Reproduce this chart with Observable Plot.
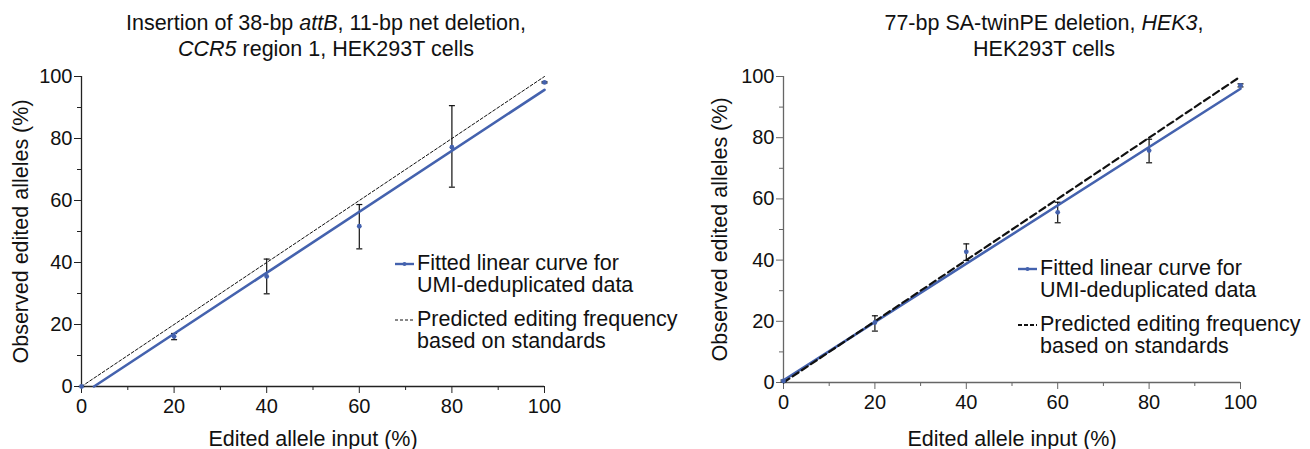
<!DOCTYPE html>
<html>
<head>
<meta charset="utf-8">
<script src="https://cdn.jsdelivr.net/npm/d3@7"></script>
<script src="https://cdn.jsdelivr.net/npm/@observablehq/plot@0.6"></script>
<style>
  body { margin: 0; background: #fff; font-family: "Liberation Sans", Arial, sans-serif; }
  #wrap { position: relative; width: 1310px; height: 449px; overflow: hidden; background: #fff; }
  .title { position: absolute; top: 10px; font-size: 21.5px; line-height: 26px; text-align: center; color: #111; white-space: nowrap; transform: translateX(-50%); }
  .panel { position: absolute; top: 60px; }
  .legend { position: absolute; font-size: 21.5px; line-height: 22px; color: #111; white-space: nowrap; }
  .entry { display: flex; align-items: flex-start; margin-bottom: 12px; }
  .entry svg { flex: none; margin-right: 3px; }
</style>
</head>
<body>
<div id="wrap"></div>
<script>
// ---------- data ----------
const inputPct = [0, 20, 40, 60, 80, 100];

const leftObserved = [0, 16.1, 35.5, 51.7, 77.2, 98.1];
const leftErrLow   = [0, 15.1, 29.9, 44.4, 64.3, 97.9];
const leftErrHigh  = [0, 17.1, 41.1, 58.7, 90.6, 98.3];
const leftFitX = [2.7, 100];
const leftFitY = [0, 95.7];

const rightObserved = [0.5, 19.6, 42.7, 55.6, 75.8, 97.1];
const rightErrLow   = [0.2, 16.8, 39.9, 52.2, 71.8, 96.6];
const rightErrHigh  = [0.8, 21.8, 45.3, 58.9, 79.5, 97.6];
const rightFitX = [0, 100];
const rightFitY = [0.7, 96.0];

const predictedX = [0, 100];
const predictedY = [0, 100];

const majorTicks = [0, 20, 40, 60, 80, 100];
const minorTicks = [10, 30, 50, 70, 90];

const xLabel = "Edited allele input (%)";
const yLabel = "Observed edited alleles (%)";
const legendLabels = [
  ["Fitted linear curve for", "UMI-deduplicated data"],
  ["Predicted editing frequency", "based on standards"]
];
const leftTitle = ["Insertion of 38-bp <i>attB</i>, 11-bp net deletion,", "<i>CCR5</i> region 1, HEK293T cells"];
const rightTitle = ["77-bp SA-twinPE deletion, <i>HEK3</i>,", "HEK293T cells"];

// ---------- styling ----------
const BLUE = "#4462ae";
const FONT = "Liberation Sans, Arial, sans-serif";

const capSymbol = {
  draw(ctx, size) {
    const w = Math.sqrt(size / Math.PI);
    ctx.moveTo(-w, 0);
    ctx.lineTo(w, 0);
  }
};

function makePanel(cfg) {
  const pts = inputPct.map((x, i) => ({x, y: cfg.obs[i], lo: cfg.lo[i], hi: cfg.hi[i]}));
  const fit = cfg.fitX.map((x, i) => ({x, y: cfg.fitY[i]}));
  const pred = predictedX.map((x, i) => ({x, y: predictedY[i]}));
  return Plot.plot({
    width: 655,
    height: 389,
    marginTop: 16,
    marginBottom: cfg.mb,
    marginLeft: cfg.ml,
    marginRight: cfg.mr,
    style: {fontFamily: FONT, fontSize: "20px", color: "#111", background: "transparent", overflow: "visible"},
    x: {domain: [0, 100]},
    y: {domain: [0, 100]},
    marks: [
      Plot.axisX(minorTicks, {tickSize: 4, tickFormat: () => "", label: null, stroke: cfg.axis}),
      Plot.axisX(majorTicks, {tickSize: 7, tickPadding: 5, fontSize: 20, label: null, stroke: cfg.axis, fill: "#111"}),
      Plot.axisX([], {label: xLabel, labelAnchor: "center", labelOffset: cfg.xlo, labelArrow: "none", fontSize: 21.5, fill: "#111"}),
      Plot.axisY(minorTicks, {tickSize: 4, tickFormat: () => "", label: null, stroke: cfg.axis}),
      Plot.axisY(majorTicks, {tickSize: 7, tickPadding: 2, fontSize: 20, label: null, stroke: cfg.axis, fill: "#111"}),
      Plot.axisY([], {label: yLabel, labelAnchor: "center", labelOffset: cfg.ylo, labelArrow: "none", fontSize: 21.5, fill: "#111", dy: cfg.ydy}),
      Plot.ruleY([0], {stroke: cfg.axis, strokeWidth: 1.3}),
      Plot.ruleX([0], {stroke: cfg.axis, strokeWidth: 1.3}),
      Plot.ruleX(pts, {x: "x", y1: "lo", y2: "hi", stroke: "#111", strokeWidth: 1.2}),
      Plot.dot(pts, {x: "x", y: "lo", symbol: capSymbol, r: 3, stroke: "#111", strokeWidth: 1.2, fill: "none"}),
      Plot.dot(pts, {x: "x", y: "hi", symbol: capSymbol, r: 3, stroke: "#111", strokeWidth: 1.2, fill: "none"}),
      Plot.line(fit, {x: "x", y: "y", stroke: BLUE, strokeWidth: 2.6}),
      Plot.line(pred, {x: "x", y: "y", stroke: "#111", strokeWidth: cfg.dashW, strokeDasharray: cfg.dash}),
      Plot.dot(pts, {x: "x", y: "y", r: 2.4, fill: BLUE, stroke: "none"})
    ]
  });
}

const wrap = document.getElementById("wrap");

function addTitle(lines, cx) {
  const d = document.createElement("div");
  d.className = "title";
  d.style.left = cx + "px";
  d.innerHTML = lines.join("<br>");
  wrap.appendChild(d);
}

function addLegend(left, top, dashW, dash) {
  const d = document.createElement("div");
  d.className = "legend";
  d.style.left = left + "px";
  d.style.top = top + "px";
  const sw = [
    `<svg width="19" height="22"><line x1="0" x2="19" y1="12" y2="12" stroke="${BLUE}" stroke-width="2.4"/><circle cx="9.5" cy="12" r="2" fill="${BLUE}"/></svg>`,
    `<svg width="19" height="22"><line x1="0" x2="19" y1="12" y2="12" stroke="#111" stroke-width="${dashW}" stroke-dasharray="${dash}"/></svg>`
  ];
  d.innerHTML = legendLabels.map((l, i) =>
    `<div class="entry">${sw[i]}<span>${l.join("<br>")}</span></div>`).join("");
  wrap.appendChild(d);
}

addTitle(leftTitle, 326);
addTitle(rightTitle, 1044);

const p1 = makePanel({obs: leftObserved, lo: leftErrLow, hi: leftErrHigh, fitX: leftFitX, fitY: leftFitY,
  mb: 63, ml: 81, mr: 111, xlo: 59, ylo: 69, ydy: -12, axis: "#222", dashW: 1, dash: "3,2"});
p1.classList.add("panel");
p1.style.left = "0px";
wrap.appendChild(p1);

const p2 = makePanel({obs: rightObserved, lo: rightErrLow, hi: rightErrHigh, fitX: rightFitX, fitY: rightFitY,
  mb: 67, ml: 128, mr: 70, xlo: 63, ylo: 72, ydy: 0, axis: "#666", dashW: 2.2, dash: "7,4"});
p2.classList.add("panel");
p2.style.left = "655px";
wrap.appendChild(p2);

addLegend(395, 252, 1, "3,2");
addLegend(1018, 257, 2, "4,2");
</script>
</body>
</html>
